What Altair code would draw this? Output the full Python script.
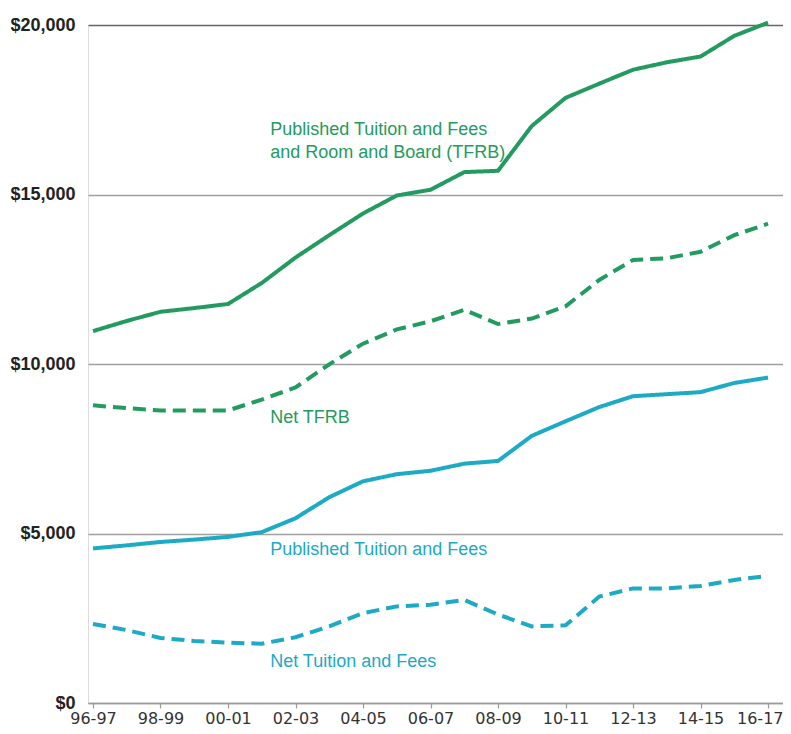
import altair as alt
import pandas as pd

years = ["96-97", "97-98", "98-99", "99-00", "00-01", "01-02", "02-03", "03-04",
         "04-05", "05-06", "06-07", "07-08", "08-09", "09-10", "10-11", "11-12",
         "12-13", "13-14", "14-15", "15-16", "16-17"]

tfrb = [10970, 11270, 11540, 11650, 11770, 12390, 13140, 13800, 14440, 14970,
        15140, 15660, 15700, 17020, 17850, 18270, 18680, 18900, 19070, 19680, 20070]
net_tfrb = [8780, 8700, 8630, 8630, 8630, 8950, 9310, 9990, 10600, 11020,
            11260, 11600, 11180, 11340, 11700, 12480, 13070, 13120, 13310, 13800, 14140]
tf = [4560, 4650, 4750, 4820, 4900, 5040, 5450, 6070, 6540, 6750,
      6850, 7060, 7140, 7880, 8310, 8730, 9050, 9110, 9170, 9440, 9600]
net_tf = [2330, 2150, 1920, 1830, 1780, 1750, 1940, 2260, 2650, 2850,
          2900, 3040, 2610, 2260, 2290, 3140, 3380, 3380, 3450, 3630, 3750]

series_names = ["Published TFRB", "Net TFRB", "Published Tuition and Fees", "Net Tuition and Fees"]
series_values = [tfrb, net_tfrb, tf, net_tf]
series_colors = ["#239b60", "#239b60", "#1caac4", "#1caac4"]
series_dash = [[1, 0], [13, 7], [1, 0], [13, 7]]

label_texts = [["Published Tuition and Fees", "and Room and Board (TFRB)"],
               ["Net TFRB"], ["Published Tuition and Fees"], ["Net Tuition and Fees"]]
label_x = [5.25, 5.25, 5.25, 5.25]
label_y = [16900, 8400, 4500, 1200]

y_ticks = [0, 5000, 10000, 15000, 20000]

rows = []
for name, vals in zip(series_names, series_values):
    for i, v in enumerate(vals):
        rows.append({"idx": i, "year": years[i], "value": v, "series": name})
df = pd.DataFrame(rows)

lab_df = pd.DataFrame({"x": label_x, "y": label_y, "text": label_texts, "series": series_names})

last = len(years) - 1
year_arr = "[" + ",".join("'%s'" % y for y in years) + "]"
label_expr = "datum.value % 2 == 0 ? " + year_arr + "[datum.value] : ''"

xscale = alt.Scale(domain=[-0.148, 20.444], nice=False, zero=False)
yscale = alt.Scale(domain=[0, 20000], nice=False)

color_scale = alt.Scale(domain=series_names, range=series_colors)
dash_scale = alt.Scale(domain=series_names, range=series_dash)

lines = alt.Chart(df).mark_line(strokeWidth=4, clip=False, strokeJoin="miter").encode(
    x=alt.X("idx:Q", scale=xscale,
            axis=alt.Axis(values=list(range(len(years))), labelExpr=label_expr, title=None,
                          grid=False, domain=True, domainColor="#9a9a9a", domainWidth=1.5,
                          ticks=True, tickSize=5, tickColor="#9a9a9a", tickWidth=1.2,
                          labelFontSize=16, labelColor="#333333", labelFont="DejaVu Sans",
                          labelPadding=2, labelOverlap=False, labelFlush=False,
                          labelAlign=alt.ExprRef(expr="datum.value == %d ? 'right' : 'center'" % last),
                          labelOffset=alt.ExprRef(expr="datum.value == %d ? 15 : 0" % last))),
    y=alt.Y("value:Q", scale=yscale,
            axis=alt.Axis(values=y_ticks, format="$,d", title=None,
                          grid=True, gridWidth=1.3,
                          gridColor=alt.ExprRef(expr="datum.value == 20000 ? '#666666' : '#a0a0a0'"),
                          domain=False, ticks=False, labelFontSize=18, labelFontWeight="bold",
                          labelColor="#222222", labelFont="Liberation Sans", labelPadding=13)),
    color=alt.Color("series:N", scale=color_scale, legend=None),
    strokeDash=alt.StrokeDash("series:N", scale=dash_scale, legend=None),
    detail="series:N",
)

labels = alt.Chart(lab_df).mark_text(align="left", baseline="middle", fontSize=18,
                                     font="Liberation Sans", lineHeight=23).encode(
    x=alt.X("x:Q", scale=xscale),
    y=alt.Y("y:Q", scale=yscale),
    text="text",
    color=alt.Color("series:N", scale=color_scale, legend=None),
)

chart = alt.layer(lines, labels).properties(
    width=695, height=678,
    autosize=alt.AutoSizeParams(type="none"),
    padding={"left": 80, "top": 17, "right": 0, "bottom": 23},
).configure_view(stroke=None).configure(background="white")

chart.save("out.html", embed_options={"renderer": "svg", "actions": False})
